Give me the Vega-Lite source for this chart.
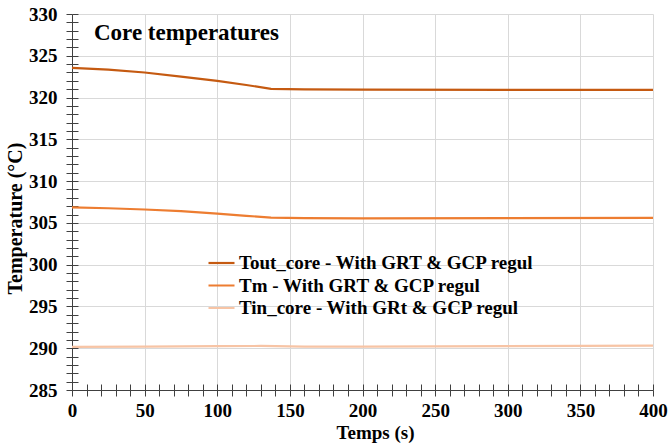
{
  "$schema": "https://vega.github.io/schema/vega-lite/v6.json",
  "width": 581,
  "height": 376,
  "autosize": {"type": "none"},
  "padding": {"left": 72, "top": 14, "right": 15, "bottom": 53},
  "background": "white",
  "config": {
    "view": {"stroke": null},
    "font": "Liberation Serif",
    "axis": {
      "labelFont": "Liberation Serif",
      "labelFontSize": 19,
      "labelFontWeight": "bold",
      "labelColor": "black",
      "titleFont": "Liberation Serif",
      "titleFontSize": 19,
      "titleFontWeight": "bold",
      "titleColor": "black",
      "gridColor": "#d9d9d9",
      "gridWidth": 1,
      "domainColor": "#404040",
      "tickColor": "#404040",
      "labelFlush": false,
      "labelOverlap": false
    }
  },
  "title": {
    "text": "Core temperatures",
    "anchor": "start",
    "frame": "group",
    "offset": -40,
    "dx": 22,
    "fontSize": 23,
    "font": "Liberation Serif",
    "fontWeight": "bold",
    "color": "black"
  },
  "data": {
    "values": [
      {"t": 0, "v": 323.55, "s": "Tout_core - With GRT & GCP regul"},
      {"t": 25, "v": 323.35, "s": "Tout_core - With GRT & GCP regul"},
      {"t": 50, "v": 323.0, "s": "Tout_core - With GRT & GCP regul"},
      {"t": 75, "v": 322.5, "s": "Tout_core - With GRT & GCP regul"},
      {"t": 100, "v": 322.0, "s": "Tout_core - With GRT & GCP regul"},
      {"t": 120, "v": 321.5, "s": "Tout_core - With GRT & GCP regul"},
      {"t": 137, "v": 321.05, "s": "Tout_core - With GRT & GCP regul"},
      {"t": 160, "v": 320.98, "s": "Tout_core - With GRT & GCP regul"},
      {"t": 200, "v": 320.95, "s": "Tout_core - With GRT & GCP regul"},
      {"t": 300, "v": 320.93, "s": "Tout_core - With GRT & GCP regul"},
      {"t": 400, "v": 320.93, "s": "Tout_core - With GRT & GCP regul"},
      {"t": 0, "v": 306.85, "s": "Tm - With GRT & GCP regul"},
      {"t": 25, "v": 306.75, "s": "Tm - With GRT & GCP regul"},
      {"t": 50, "v": 306.6, "s": "Tm - With GRT & GCP regul"},
      {"t": 75, "v": 306.4, "s": "Tm - With GRT & GCP regul"},
      {"t": 100, "v": 306.1, "s": "Tm - With GRT & GCP regul"},
      {"t": 120, "v": 305.85, "s": "Tm - With GRT & GCP regul"},
      {"t": 137, "v": 305.63, "s": "Tm - With GRT & GCP regul"},
      {"t": 160, "v": 305.58, "s": "Tm - With GRT & GCP regul"},
      {"t": 200, "v": 305.55, "s": "Tm - With GRT & GCP regul"},
      {"t": 300, "v": 305.57, "s": "Tm - With GRT & GCP regul"},
      {"t": 400, "v": 305.6, "s": "Tm - With GRT & GCP regul"},
      {"t": 0, "v": 290.15, "s": "Tin_core - With GRt & GCP regul"},
      {"t": 50, "v": 290.2, "s": "Tin_core - With GRt & GCP regul"},
      {"t": 100, "v": 290.25, "s": "Tin_core - With GRt & GCP regul"},
      {"t": 130, "v": 290.27, "s": "Tin_core - With GRt & GCP regul"},
      {"t": 160, "v": 290.2, "s": "Tin_core - With GRt & GCP regul"},
      {"t": 200, "v": 290.2, "s": "Tin_core - With GRt & GCP regul"},
      {"t": 300, "v": 290.25, "s": "Tin_core - With GRt & GCP regul"},
      {"t": 400, "v": 290.3, "s": "Tin_core - With GRt & GCP regul"}
    ]
  },
  "layer": [
    {
      "mark": {"type": "line", "strokeWidth": 2.2},
      "encoding": {
        "x": {
          "field": "t", "type": "quantitative",
          "scale": {"domain": [0, 400], "nice": false},
          "axis": {
            "title": "Temps (s)",
            "titlePadding": 3,
            "titleX": 303,
            "values": [0,10,20,30,40,50,60,70,80,90,100,110,120,130,140,150,160,170,180,190,200,210,220,230,240,250,260,270,280,290,300,310,320,330,340,350,360,370,380,390,400],
            "labelExpr": "datum.value % 50 === 0 ? datum.label : ''",
            "gridOpacity": {"expr": "datum.value % 50 === 0 ? 1 : 0"},
            "tickSize": 6,
            "labelPadding": 5
          }
        },
        "y": {
          "field": "v", "type": "quantitative",
          "scale": {"domain": [285, 330], "nice": false, "zero": false},
          "axis": {
            "title": "Temperature (°C)",
            "titleFontSize": 20,
            "titlePadding": 3,
            "titleY": 204,
            "values": [285,286,287,288,289,290,291,292,293,294,295,296,297,298,299,300,301,302,303,304,305,306,307,308,309,310,311,312,313,314,315,316,317,318,319,320,321,322,323,324,325,326,327,328,329,330],
            "labelExpr": "datum.value % 5 === 0 ? datum.label : ''",
            "gridOpacity": {"expr": "datum.value % 5 === 0 ? 1 : 0"},
            "tickSize": 6,
            "labelPadding": 9
          }
        },
        "color": {
          "field": "s", "type": "nominal",
          "scale": {
            "domain": ["Tout_core - With GRT & GCP regul", "Tm - With GRT & GCP regul", "Tin_core - With GRt & GCP regul"],
            "range": ["#C55A11", "#ED7D31", "#F7C4A5"]
          },
          "legend": {
            "title": null,
            "orient": "none",
            "legendX": 135,
            "legendY": 239,
            "symbolType": "stroke",
            "symbolSize": 676,
            "symbolStrokeWidth": 2.2,
            "labelFont": "Liberation Serif",
            "labelFontSize": 19,
            "labelFontWeight": "bold",
            "labelColor": "black",
            "labelLimit": 0,
            "labelOffset": 3,
            "clipHeight": 20,
            "rowPadding": 2.5,
            "padding": 0
          }
        }
      }
    },
    {
      "mark": {"type": "line", "strokeOpacity": 0},
      "encoding": {
        "x": {
          "field": "t", "type": "quantitative",
          "axis": {
            "title": null,
            "values": [0,10,20,30,40,50,60,70,80,90,100,110,120,130,140,150,160,170,180,190,200,210,220,230,240,250,260,270,280,290,300,310,320,330,340,350,360,370,380,390,400],
            "labels": false,
            "grid": false,
            "domain": false,
            "tickSize": -6,
            "orient": "bottom"
          }
        },
        "y": {
          "field": "v", "type": "quantitative",
          "axis": {
            "title": null,
            "values": [285,286,287,288,289,290,291,292,293,294,295,296,297,298,299,300,301,302,303,304,305,306,307,308,309,310,311,312,313,314,315,316,317,318,319,320,321,322,323,324,325,326,327,328,329,330],
            "labels": false,
            "grid": false,
            "domain": false,
            "tickSize": -6,
            "orient": "left"
          }
        },
        "detail": {"field": "s", "type": "nominal"}
      }
    }
  ],
  "resolve": {"axis": {"x": "independent", "y": "independent"}}
}
